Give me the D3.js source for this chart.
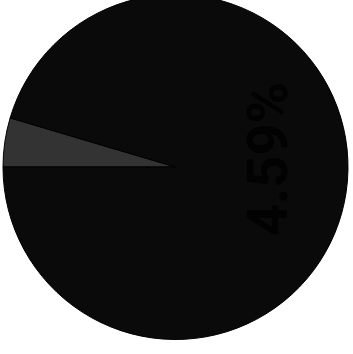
<!DOCTYPE html>
<html><head><meta charset="utf-8">
<script src="https://cdn.jsdelivr.net/npm/d3@7"></script>
<style>html,body{margin:0;padding:0;background:#fff;}svg{display:block;}</style>
</head><body>
<svg id="c" width="353" height="354"></svg>
<script>
const categories = ["Minor", "Major"];
const values = [4.59, 95.41];
const colors = ["#333333", "#0a0a0a"];
const labelText = "4.59%";

const svg = d3.select("#c");
const cx = 175.5, cy = 167, r = 172.5;
const g = svg.append("g").attr("transform", `translate(${cx},${cy})`);

const pie = d3.pie().sort(null).value(d => d.v)
  .startAngle(-Math.PI / 2).endAngle(1.5 * Math.PI);
const data = pie(categories.map((c, i) => ({c, v: values[i]})));
const arc = d3.arc().innerRadius(0).outerRadius(r);

g.selectAll("path").data(data).join("path")
  .attr("d", arc)
  .attr("fill", (d, i) => colors[i])
  .attr("stroke", "#000")
  .attr("stroke-width", 1);

const lx = r * 0.537, ly = -8;
g.append("text")
  .attr("transform", `translate(${lx},${ly}) rotate(-90)`)
  .attr("text-anchor", "middle")
  .attr("dominant-baseline", "central")
  .attr("font-family", "Roboto, sans-serif")
  .attr("font-weight", "bold")
  .attr("font-size", 56)
  .attr("fill", "#020202")
  .text(labelText);
</script>
</body></html>
